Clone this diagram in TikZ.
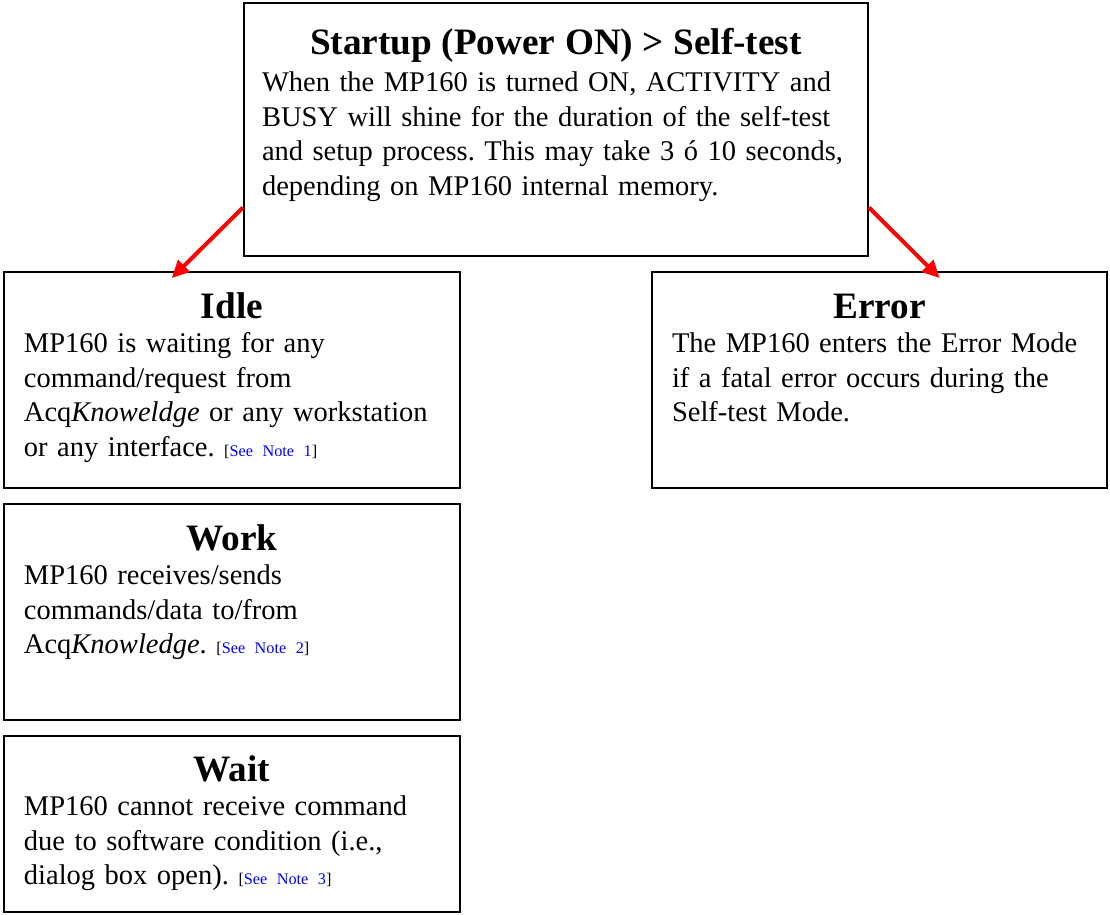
\documentclass[tikz,border=0pt]{standalone}
\usepackage{fontspec}
\setmainfont{Liberation Serif}
\usepackage{xcolor}
\usetikzlibrary{positioning,arrows.meta}
\frenchspacing
\hyphenpenalty=10000

\newcommand{\statetitle}[1]{\makebox[\linewidth]{\fontsize{14.9}{17}\selectfont\bfseries #1}\\}
\newcommand{\seenote}[1]{{\fontsize{6.5}{8}\selectfont[\textcolor{blue}{See Note #1}]}}

\begin{document}
\begin{tikzpicture}[x=0.4pt, y=0.4pt,
  state/.style={draw, rectangle, line width=0.8pt, align=left, inner ysep=0pt, inner xsep=8pt,
    font=\fontsize{11.4}{13.8}\selectfont, text width=166.4pt, text height=18.4pt, text depth=68pt},
  trans/.style={draw=red, line width=1.6pt, -{Triangle[length=7pt,width=6.5pt]}, shorten >=-4pt}]
\useasboundingbox (0,0) rectangle (1110,914);

% States
\node[state, anchor=north, inner xsep=7.2pt, text width=235.2pt, text height=20.8pt, text depth=80.4pt] (startup) at (556,912)
  {\statetitle{Startup (Power ON) > Self-test}[1pt]When the MP160 is turned ON, ACTIVITY and\\ BUSY will shine for the duration of the self-test\\ and setup process. This may take 3 ó 10 seconds,\\ depending on MP160 internal memory.};
\node[state, anchor=north] (idle) at (232,643)
  {\statetitle{Idle}MP160 is waiting for any\\ command/request from\\ Acq\textit{Knoweldge} or any workstation\\ or any interface. \seenote{1}};
\node[state, anchor=north, text width=166pt] (error) at (879.5,643)
  {\statetitle{Error}The MP160 enters the Error Mode\\ if a fatal error occurs during the\\ Self-test Mode.};
\node[state, below=5.6pt of idle] (work)
  {\statetitle{Work}MP160 receives/sends\\ commands/data to/from\\ Acq\textit{Knowledge}. \seenote{2}};
\node[state, below=5.6pt of work, text height=18pt, text depth=52.4pt] (wait)
  {\statetitle{Wait}MP160 cannot receive command\\ due to software condition (i.e.,\\ dialog box open). \seenote{3}};

% Arrows
\draw[trans] (startup.194) -- (idle.116);
\draw[trans] (startup.346) -- (error.64.5);
\end{tikzpicture}
\end{document}
